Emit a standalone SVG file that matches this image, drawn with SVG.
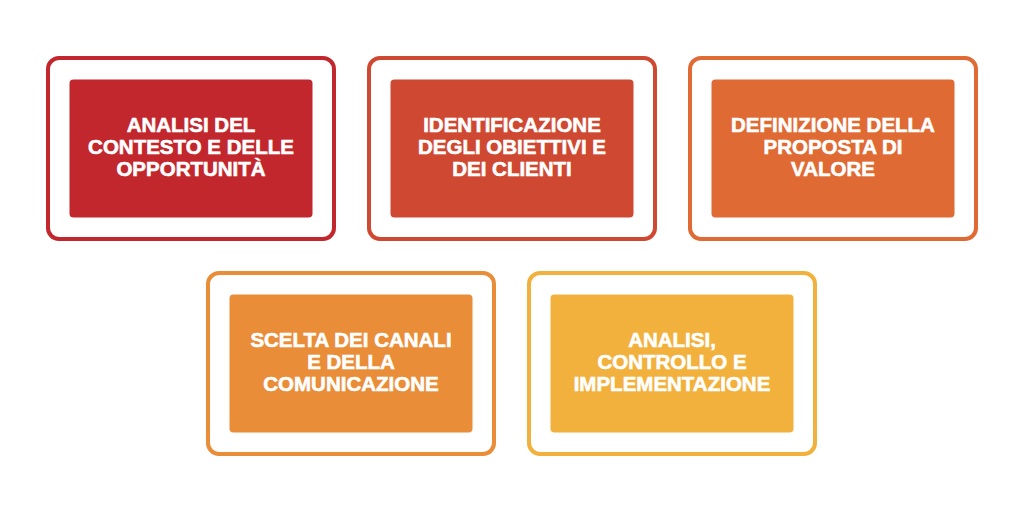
<svg xmlns="http://www.w3.org/2000/svg" width="1024" height="512" viewBox="0 0 1024 512">
<style>
.outer{fill:none;stroke-width:4}
.inner{stroke:none}
.lbl{font-family:"Liberation Sans",Arial,sans-serif;font-weight:bold;font-size:20.5px;fill:#ffffff;stroke:#ffffff;stroke-width:0.6;text-anchor:middle}
</style>
<rect width="1024" height="512" fill="#ffffff"/>
<g id="connectors"></g>
<g id="node1">
<rect class="outer" x="48" y="58" width="286" height="181" rx="11" stroke="#C1272D"/>
<rect class="inner" x="69.5" y="79.5" width="243" height="138" rx="4" fill="#C1272D"/>
<text class="lbl" x="191" y="132">ANALISI DEL</text>
<text class="lbl" x="191" y="154">CONTESTO E DELLE</text>
<text class="lbl" x="191" y="176">OPPORTUNITÀ</text>
</g>
<g id="node2">
<rect class="outer" x="369" y="58" width="286" height="181" rx="11" stroke="#CF4831"/>
<rect class="inner" x="390.5" y="79.5" width="243" height="138" rx="4" fill="#CF4831"/>
<text class="lbl" x="512" y="132">IDENTIFICAZIONE</text>
<text class="lbl" x="512" y="154">DEGLI OBIETTIVI E</text>
<text class="lbl" x="512" y="176">DEI CLIENTI</text>
</g>
<g id="node3">
<rect class="outer" x="690" y="58" width="286" height="181" rx="11" stroke="#E06A33"/>
<rect class="inner" x="711.5" y="79.5" width="243" height="138" rx="4" fill="#E06A33"/>
<text class="lbl" x="833" y="132">DEFINIZIONE DELLA</text>
<text class="lbl" x="833" y="154">PROPOSTA DI</text>
<text class="lbl" x="833" y="176">VALORE</text>
</g>
<g id="node4">
<rect class="outer" x="208" y="273" width="286" height="181" rx="11" stroke="#E98D38"/>
<rect class="inner" x="229.5" y="294.5" width="243" height="138" rx="4" fill="#E98D38"/>
<text class="lbl" x="351" y="346.5">SCELTA DEI CANALI</text>
<text class="lbl" x="351" y="368.5">E DELLA</text>
<text class="lbl" x="351" y="390.5">COMUNICAZIONE</text>
</g>
<g id="node5">
<rect class="outer" x="529" y="273" width="286" height="181" rx="11" stroke="#F2B13D"/>
<rect class="inner" x="550.5" y="294.5" width="243" height="138" rx="4" fill="#F2B13D"/>
<text class="lbl" x="672" y="346.5">ANALISI,</text>
<text class="lbl" x="672" y="368.5">CONTROLLO E</text>
<text class="lbl" x="672" y="390.5">IMPLEMENTAZIONE</text>
</g>
</svg>
